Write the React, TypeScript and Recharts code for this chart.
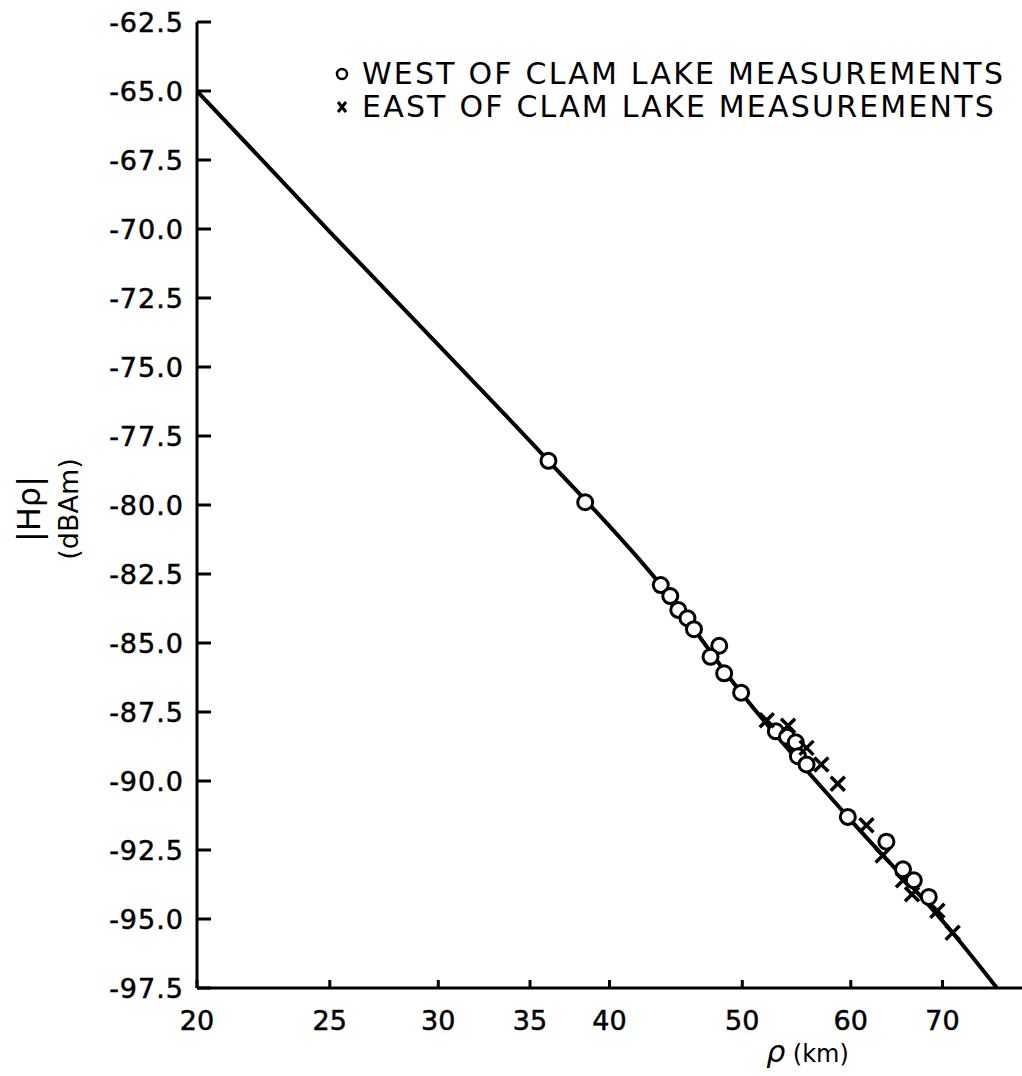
import { ScatterChart, Scatter, XAxis, YAxis } from "recharts";

// rho (km) tick values on the log axis, |H rho| (dBAm) ticks
const rhoTicks = [20, 25, 30, 35, 40, 50, 60, 70];
const hTicks = [
  -62.5, -65, -67.5, -70, -72.5, -75, -77.5, -80, -82.5, -85, -87.5, -90,
  -92.5, -95, -97.5,
];

// theoretical curve
const curveRho = [20, 25, 30, 36.1, 43.6, 49.9, 59.7, 71.2, 76.7];
const curveH = [-65.0, -70.1, -74.2, -78.4, -82.9, -86.8, -91.3, -95.5, -97.5];

// west of Clam Lake (circles)
const westRho = [
  36.1, 38.4, 43.6, 44.3, 44.9, 45.6, 46.1, 48.1, 47.4, 48.5, 49.9, 52.9,
  53.9, 54.7, 54.9, 55.7, 59.7, 63.7, 65.5, 66.7, 68.4,
];
const westH = [
  -78.4, -79.9, -82.9, -83.3, -83.8, -84.1, -84.5, -85.1, -85.5, -86.1, -86.8,
  -88.2, -88.4, -88.6, -89.1, -89.4, -91.3, -92.2, -93.2, -93.6, -94.2,
];

// east of Clam Lake (crosses)
const eastRho = [52.1, 54.0, 55.7, 57.1, 58.7, 61.6, 63.3, 65.5, 66.5, 69.4, 71.2];
const eastH = [-87.8, -88.0, -88.8, -89.4, -90.1, -91.6, -92.7, -93.6, -94.1, -94.7, -95.5];

const legendLabels = [
  "WEST OF CLAM LAKE MEASUREMENTS",
  "EAST OF CLAM LAKE MEASUREMENTS",
];

const FONT = '"DejaVu Sans", sans-serif';

const zip = (xs: number[], ys: number[]) => xs.map((x, i) => ({ rho: x, h: ys[i] }));
const curve = zip(curveRho, curveH);
const west = zip(westRho, westH);
const east = zip(eastRho, eastH);

function YTick({ x, y, payload }: any) {
  return (
    <g>
      <line x1={x} x2={x + 14} y1={y} y2={y} stroke="#000" strokeWidth={3} />
      <text
        x={x - 13}
        y={y}
        dy={10}
        textAnchor="end"
        fontSize={27}
        fontFamily={FONT}
        letterSpacing={1}
        fill="#000"
        stroke="#000"
        strokeWidth={0.5}
      >
        {Number(payload.value).toFixed(1)}
      </text>
    </g>
  );
}

function XTick({ x, y, payload }: any) {
  return (
    <g>
      <line x1={x} x2={x} y1={y} y2={y - 8} stroke="#000" strokeWidth={3} />
      <text
        x={x}
        y={y + 42}
        textAnchor="middle"
        fontSize={27}
        fontFamily={FONT}
        fill="#000"
        stroke="#000"
        strokeWidth={0.5}
      >
        {payload.value}
      </text>
    </g>
  );
}

function XTitle({ viewBox }: any) {
  const cx = viewBox.x + viewBox.width * 0.74;
  return (
    <text x={cx} y={viewBox.y + 74} textAnchor="middle" fontSize={24} fontFamily={FONT} fill="#000">
      <tspan fontStyle="italic" fontSize={30}>ρ</tspan> (km)
    </text>
  );
}

function YTitle({ viewBox }: any) {
  const cy = viewBox.y + viewBox.height / 2 + 4;
  return (
    <g fontFamily={FONT} fill="#000">
      <text x={40} y={cy} transform={`rotate(-90 40 ${cy})`} textAnchor="middle" fontSize={32}>
        |Hρ|
      </text>
      <text x={78} y={cy} transform={`rotate(-90 78 ${cy})`} textAnchor="middle" fontSize={27}>
        (dBAm)
      </text>
    </g>
  );
}

function LegendBox() {
  return (
    <div
      style={{
        position: "absolute",
        left: 332,
        top: 57,
        fontFamily: FONT,
        fontSize: 30,
        lineHeight: "33px",
        color: "#000",
      }}
    >
      {legendLabels.map((label, i) => (
        <div key={label} style={{ display: "flex", alignItems: "center", whiteSpace: "nowrap" }}>
          <svg width={20} height={20}>
            {i === 0 ? (
              <circle cx={10} cy={10} r={5} fill="#fff" stroke="#000" strokeWidth={2.5} />
            ) : (
              <g stroke="#000" strokeWidth={3}>
                <line x1={6} y1={5} x2={14} y2={15} />
                <line x1={14} y1={5} x2={6} y2={15} />
              </g>
            )}
          </svg>
          <span style={{ marginLeft: 10, letterSpacing: 2.2 }}>{label}</span>
        </div>
      ))}
    </div>
  );
}

const circleShape = (p: any) => (
  <circle cx={p.cx} cy={p.cy} r={7.5} fill="#fff" stroke="#000" strokeWidth={3} />
);

const crossShape = (p: any) => (
  <g stroke="#000" strokeWidth={3.5}>
    <line x1={p.cx - 7} y1={p.cy - 7} x2={p.cx + 7} y2={p.cy + 7} />
    <line x1={p.cx + 7} y1={p.cy - 7} x2={p.cx - 7} y2={p.cy + 7} />
  </g>
);

export default function App() {
  return (
    <div style={{ position: "absolute", left: 0, top: 0, width: 1022, height: 1076, background: "#fff" }}>
      <ScatterChart width={1022} height={1076} margin={{ top: 22, right: 0, bottom: 0, left: 0 }}>
        <XAxis
          dataKey="rho"
          type="number"
          scale="log"
          domain={[20, 80]}
          allowDataOverflow
          ticks={rhoTicks}
          tick={<XTick />}
          tickSize={0}
          tickMargin={0}
          tickLine={false}
          axisLine={{ stroke: "#000", strokeWidth: 3 }}
          height={88}
          label={{ content: <XTitle /> }}
        />
        <YAxis
          dataKey="h"
          type="number"
          domain={[-97.5, -62.5]}
          ticks={hTicks}
          tick={<YTick />}
          tickSize={0}
          tickMargin={0}
          tickLine={false}
          axisLine={{ stroke: "#000", strokeWidth: 3 }}
          width={197}
          label={{ content: <YTitle /> }}
        />
        <Scatter
          name="curve"
          data={curve}
          line={{ stroke: "#000", strokeWidth: 4 }}
          lineJointType="monotoneX"
          shape={() => <g />}
          legendType="none"
          isAnimationActive={false}
        />
        <Scatter name={legendLabels[0]} data={west} shape={circleShape} isAnimationActive={false} />
        <Scatter name={legendLabels[1]} data={east} shape={crossShape} isAnimationActive={false} />
      </ScatterChart>
      <LegendBox />
    </div>
  );
}
